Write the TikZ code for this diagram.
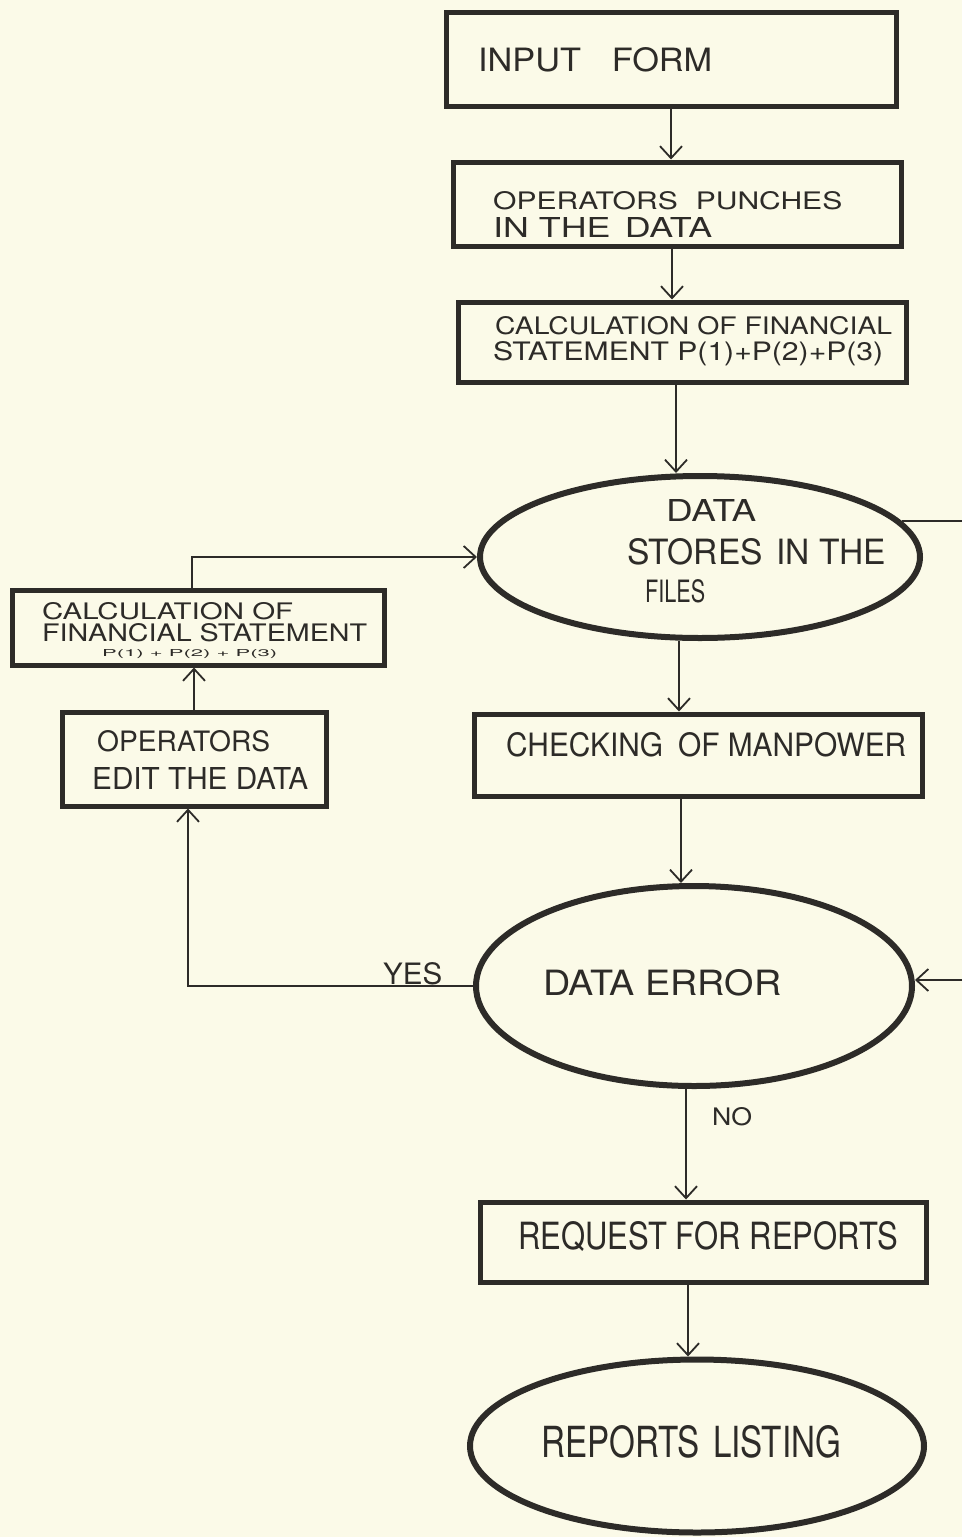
\documentclass[tikz,border=0pt]{standalone}
\usepackage{fontspec}
\setmainfont{TeX Gyre Heros}
\usetikzlibrary{shapes.geometric,arrows.meta}
\definecolor{paper}{RGB}{251,250,232}
\definecolor{ink}{RGB}{45,43,40}
% hand-lettered line squeezed to a given width and cap height
\newcommand{\hw}[3]{\resizebox{#1pt}{#2pt}{#3}}
\tikzset{
  stepbox/.style={draw=ink, line width=5pt, rectangle, inner sep=0pt},
  oval/.style={draw=ink, line width=6pt, ellipse, inner sep=0pt},
  txt/.style={anchor=south west, inner sep=0pt, text=ink},
  arr/.style={draw=ink, line width=1.8pt, -{Straight Barb[length=12pt,width=22pt]}},
  wire/.style={draw=ink, line width=1.8pt}
}
\begin{document}
\begin{tikzpicture}[x=1pt,y=-1pt]
\fill[paper] (0,0) rectangle (962,1537);
\useasboundingbox (0,0) rectangle (962,1537);

% main column
\node[stepbox, minimum width=450pt, minimum height=94pt] (box1) at (671,59) {};
\node[stepbox, minimum width=448pt, minimum height=84pt] (box2) at (677,204) {};
\node[stepbox, minimum width=448pt, minimum height=80pt] (box3) at (682,342) {};
\node[oval, minimum width=440pt, minimum height=162pt] (ell1) at (700,557) {};
\node[stepbox, minimum width=448pt, minimum height=82pt] (check) at (698,755) {};
\node[oval, minimum width=436pt, minimum height=200pt] (err) at (694,986) {};
\node[stepbox, minimum width=446pt, minimum height=80pt] (req) at (703,1242) {};
\node[oval, minimum width=454pt, minimum height=173pt] (ell3) at (697,1446) {};

% side loop
\node[stepbox, minimum width=372pt, minimum height=75pt] (boxA) at (198,627.5) {};
\node[stepbox, minimum width=264pt, minimum height=94pt] (boxB) at (194,759) {};

% lettering
\node[txt] (t1) at (478,72) {\hw{234}{24}{INPUT\hspace{0.9em}FORM}};
\node[txt] (t2a) at (493,210) {\hw{349}{18}{OPERATORS\hspace{0.6em}PUNCHES}};
\node[txt] (t2b) at (493,238) {\hw{219}{20}{IN THE\hspace{0.4em}DATA}};
\node[txt] (t3a) at (495,335) {\hw{397}{18}{CALCULATION OF FINANCIAL}};
\node[txt] (t3b) at (493,366) {\hw{390}{19}{STATEMENT P(1)+P(2)+P(3)}};
\node[txt] (t4a) at (666,522) {\hw{90}{22}{DATA}};
\node[txt] (t4b) at (627,565) {\hw{259}{26}{STORES\hspace{0.4em}IN THE}};
\node[txt] (t4c) at (645,603) {\hw{60}{23}{FILES}};
\node[txt] (tAa) at (42,620) {\hw{251}{17}{CALCULATION OF}};
\node[txt] (tAb) at (42,642) {\hw{325}{18}{FINANCIAL STATEMENT}};
\node[txt] (tAc) at (102,659) {\hw{175}{7}{P(1) + P(2) + P(3)}};
\node[txt] (tBa) at (97,752) {\hw{173}{21}{OPERATORS}};
\node[txt] (tBb) at (92,790) {\hw{216}{22}{EDIT THE DATA}};
\node[txt] (t5) at (506,757) {\hw{400}{24}{CHECKING\hspace{0.5em}OF MANPOWER}};
\node[txt] (t6) at (543,996) {\hw{238}{26}{DATA ERROR}};
\node[txt] (t7) at (518,1252) {\hw{380}{28}{REQUEST FOR\hspace{0.3em}REPORTS}};
\node[txt] (t8) at (541,1458) {\hw{300}{32}{REPORTS\hspace{0.4em}LISTING}};
\node[txt] (yes) at (383,985) {\hw{59}{22}{YES}};
\node[txt] (no) at (712,1126) {\hw{40}{18}{NO}};

% free ends at the right margin
\coordinate (edge1) at (962,522);
\coordinate (edge2) at (962,980);

% connectors
\draw[arr] (box1.south) -- (box1.south |- box2.north);
\draw[arr] ([xshift=-5pt]box2.south) -- ([xshift=-5pt]box2.south |- box3.north);
\draw[arr] ([xshift=-6pt]box3.south) -- ([xshift=-6pt]box3.south |- ell1.north);
\draw[arr] ([xshift=-21pt]ell1.south) -- ([xshift=-21pt]ell1.south |- check.north);
\draw[arr] ([xshift=-17pt]check.south) -- ([xshift=-17pt]check.south |- err.north);
\draw[arr] ([xshift=-8pt]err.south) -- ([xshift=-8pt]err.south |- req.north);
\draw[arr] ([xshift=-15pt]req.south) -- ([xshift=-15pt]req.south |- ell3.north);

\draw[arr] (err.west) -| ([xshift=-6pt]boxB.south);
\draw[arr] (boxB.north) -- (boxB.north |- boxA.south);
\draw[arr] ([xshift=-6pt]boxA.north) |- (ell1.west);

\draw[wire] (ell1.10) -- (ell1.10 -| edge1);
\draw[arr] (edge2) -- (edge2 -| err.east);
\end{tikzpicture}
\end{document}
